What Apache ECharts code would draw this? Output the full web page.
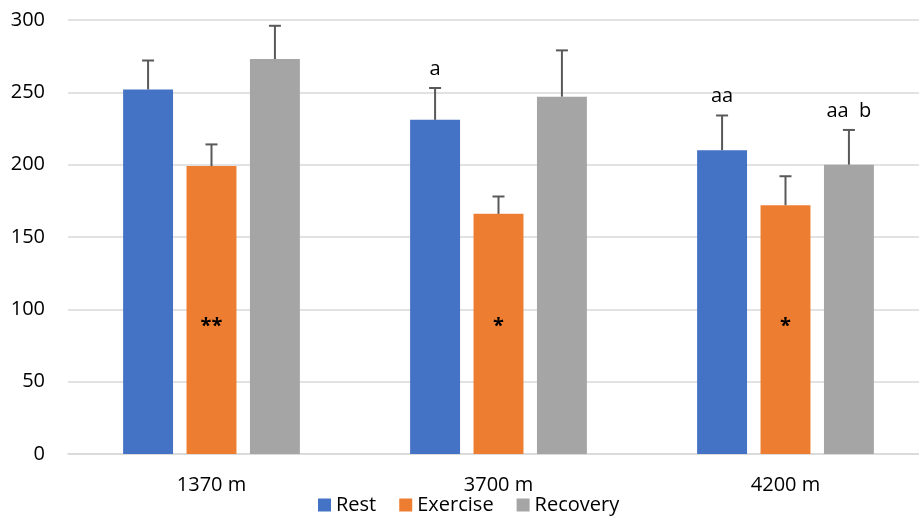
<!DOCTYPE html>
<html>
<head>
<meta charset="utf-8">
<script src="https://cdn.jsdelivr.net/npm/echarts@6/dist/echarts.min.js"></script>
<style>
  html, body { margin: 0; padding: 0; background: #fff; }
  #chart { width: 919px; height: 517px; }
</style>
</head>
<body>
<div id="chart"></div>
<script>
// Altitude groups on the category axis
const altitudes = ['1370 m', '3700 m', '4200 m'];

// Mean values per condition
const restValues = [252, 231, 210];
const exerciseValues = [199, 166, 172];
const recoveryValues = [273, 247, 200];

// Standard deviations (drawn upward only)
const restSD = [20, 22, 24];
const exerciseSD = [15, 12, 20];
const recoverySD = [23, 32, 24];

// Significance marks above the error bars
const restMarks = ['', 'a', 'aa'];
const exerciseMarks = ['', '', ''];
const recoveryMarks = ['', '', 'aa  b'];

// Marks drawn inside the exercise bars
const exerciseStars = ['**', '*', '*'];
const starLevel = 88;

// Y-axis ticks
const yMin = 0, yMax = 300, yStep = 50;

const FONT = '"Open Sans", sans-serif';
const BAR_FRAC = 0.174;   // bar width as a share of the category band
const GAP_FRAC = 0.27;    // gap between bars as a share of bar width

const chart = echarts.init(document.getElementById('chart'));

// Upward error bar with optional text above the cap
function errorSeries(name, values, sds, marks, slot) {
  const data = values.map((v, i) => [i, v, sds[i], marks[i]]);
  return {
    type: 'custom',
    name: name + ' SD',
    data: data,
    z: 5,
    renderItem: function (params, api) {
      const idx = api.value(0);
      const band = api.size([1, 0])[0];
      const offset = slot * band * BAR_FRAC * (1 + GAP_FRAC);
      const base = api.coord([idx, api.value(1)]);
      const top = api.coord([idx, api.value(1) + api.value(2)]);
      const x = base[0] + offset;
      const capHalf = 6;
      const style = { stroke: '#595959', lineWidth: 2 };
      const children = [
        { type: 'line', shape: { x1: x, y1: base[1], x2: x, y2: top[1] }, style: style },
        { type: 'line', shape: { x1: x - capHalf, y1: top[1], x2: x + capHalf, y2: top[1] }, style: style }
      ];
      const mark = data[params.dataIndex][3];
      if (mark) {
        children.push({
          type: 'text',
          style: {
            text: mark, x: x, y: top[1] - 19,
            align: 'center', verticalAlign: 'middle',
            font: '20px ' + FONT, fill: '#000'
          }
        });
      }
      return { type: 'group', children: children };
    }
  };
}

chart.setOption({
  animation: false,
  backgroundColor: '#fff',
  grid: { left: 68, top: 20, width: 861, bottom: 63, containLabel: false, outerBoundsMode: 'none' },
  legend: {
    top: 495,
    left: 318,
    padding: 0,
    itemWidth: 13,
    itemHeight: 13,
    itemGap: 23,
    icon: 'rect',
    textStyle: { fontFamily: FONT, fontSize: 20, color: '#000', padding: [0, 0, 0, 0] },
    data: ['Rest', 'Exercise', 'Recovery']
  },
  xAxis: {
    type: 'category',
    data: altitudes,
    axisLine: { lineStyle: { color: '#d9d9d9', width: 1.5 } },
    axisTick: { show: false },
    axisLabel: { fontFamily: FONT, fontSize: 20, color: '#000', margin: 21 }
  },
  yAxis: {
    type: 'value',
    min: yMin, max: yMax, interval: yStep,
    axisLine: { show: false },
    axisTick: { show: false },
    splitLine: { lineStyle: { color: '#d9d9d9', width: 1.5 } },
    axisLabel: { fontFamily: FONT, fontSize: 20, color: '#000', margin: 23 }
  },
  series: [
    {
      name: 'Rest', type: 'bar', data: restValues,
      barWidth: (BAR_FRAC * 100) + '%', barGap: (GAP_FRAC * 100) + '%',
      itemStyle: { color: '#4472C4' }
    },
    {
      name: 'Exercise', type: 'bar', data: exerciseValues,
      barWidth: (BAR_FRAC * 100) + '%', barGap: (GAP_FRAC * 100) + '%',
      itemStyle: { color: '#ED7D31' }
    },
    {
      name: 'Recovery', type: 'bar', data: recoveryValues,
      barWidth: (BAR_FRAC * 100) + '%', barGap: (GAP_FRAC * 100) + '%',
      itemStyle: { color: '#A5A5A5' }
    },
    errorSeries('Rest', restValues, restSD, restMarks, -1),
    errorSeries('Exercise', exerciseValues, exerciseSD, exerciseMarks, 0),
    errorSeries('Recovery', recoveryValues, recoverySD, recoveryMarks, 1),
    {
      type: 'custom',
      name: 'stars',
      data: exerciseStars.map((s, i) => [i, starLevel, s]),
      z: 6,
      renderItem: function (params, api) {
        const p = api.coord([api.value(0), api.value(1)]);
        return {
          type: 'text',
          style: {
            text: exerciseStars[params.dataIndex], x: p[0], y: p[1],
            align: 'center', verticalAlign: 'middle',
            font: 'bold 20px ' + FONT, fill: '#000'
          }
        };
      }
    }
  ]
});
</script>
</body>
</html>
